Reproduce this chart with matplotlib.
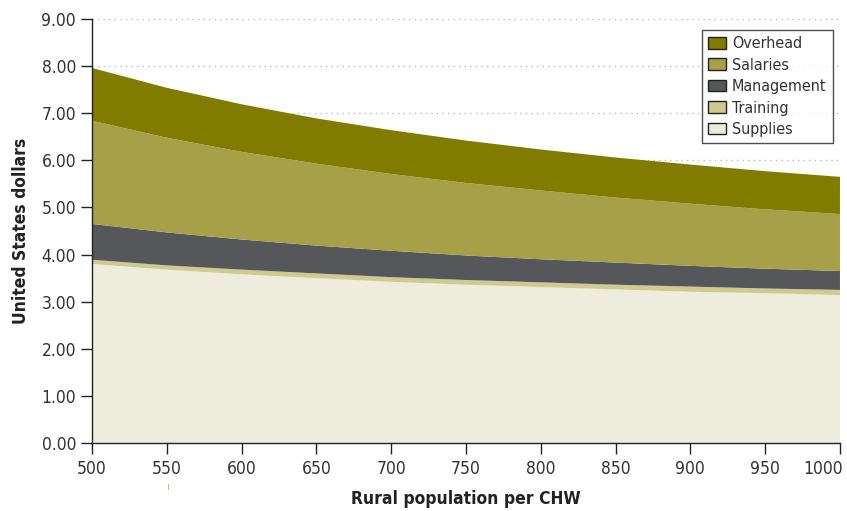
import matplotlib
matplotlib.use("Agg")
import matplotlib.pyplot as plt
from matplotlib.patches import Patch
import matplotlib.transforms as mtransforms

population = [500, 550, 600, 650, 700, 750, 800, 850, 900, 950, 1000]
supplies = [3.80, 3.68, 3.58, 3.50, 3.42, 3.36, 3.31, 3.26, 3.21, 3.18, 3.14]
training = [0.09, 0.09, 0.10, 0.10, 0.10, 0.10, 0.10, 0.10, 0.11, 0.10, 0.11]
management = [0.76, 0.70, 0.64, 0.59, 0.56, 0.52, 0.49, 0.47, 0.44, 0.42, 0.40]
salaries = [2.19, 2.01, 1.86, 1.74, 1.63, 1.54, 1.46, 1.38, 1.32, 1.26, 1.21]
overhead = [1.12, 1.06, 1.01, 0.96, 0.93, 0.90, 0.87, 0.85, 0.83, 0.81, 0.79]

series_names = ["Supplies", "Training", "Management", "Salaries", "Overhead"]
colors = ["#EEECDC", "#CFCB8F", "#55575A", "#A6A048", "#817C00"]

plt.rcParams['font.family'] = ['DejaVu Sans']
plt.rcParams['font.stretch'] = 'condensed'

fig = plt.figure(figsize=(8.47, 5.11), dpi=100)
ax = fig.add_axes([0.1086, 0.1331, 0.8831, 0.8297])

ax.stackplot(population, supplies, training, management, salaries, overhead,
             colors=colors, linewidth=0, zorder=2)

ax.set_xlim(500, 1000)
ax.set_ylim(0, 9)
ax.set_xticks(range(500, 1001, 50))
ax.set_yticks(range(0, 10))
ax.set_yticklabels([f"{v:.2f}" for v in range(0, 10)])
ax.yaxis.grid(True, linestyle=(0, (1, 3)), color="#BBBBBB", linewidth=1, zorder=0)
ax.set_axisbelow(True)

for s in ["top", "right"]:
    ax.spines[s].set_visible(False)
for s in ["left", "bottom"]:
    ax.spines[s].set_color("#222222")
    ax.spines[s].set_linewidth(1)
ax.tick_params(axis="both", direction="out", length=8, width=1, color="#222222",
               labelsize=12.5, labelcolor="#333333")
ax.tick_params(axis="x", pad=4)

# keep the last x tick label inside the figure, as in the reference
fig.canvas.draw()
last = ax.get_xticklabels()[-1]
last.set_horizontalalignment("right")
last.set_transform(last.get_transform() + mtransforms.ScaledTranslation(3 / 100, 0, fig.dpi_scale_trans))

ax.set_xlabel("Rural population per CHW", fontsize=12.5, fontweight="bold", color="#222222", labelpad=9)
ax.set_ylabel("United States dollars", fontsize=12.5, fontweight="bold", color="#222222", labelpad=8)

handles = [Patch(facecolor=c, edgecolor="#222222", linewidth=1, label=n)
           for n, c in zip(series_names, colors)]
handles = handles[::-1]
leg = ax.legend(handles=handles, loc="upper right", bbox_to_anchor=(0.9906, 0.974),
                fontsize=11.5, frameon=True, fancybox=False, edgecolor="#222222",
                handlelength=1.1, handleheight=0.75, handletextpad=0.4,
                labelspacing=0.4, borderpad=0.4, borderaxespad=0)
leg.get_frame().set_linewidth(1)
for t in leg.get_texts():
    t.set_color("#333333")

fig.text(168 / 847, 1 - 487 / 511, "ı", color="#C8C060", fontsize=8, ha="center", va="center")

fig.savefig("out.png", dpi=100)
